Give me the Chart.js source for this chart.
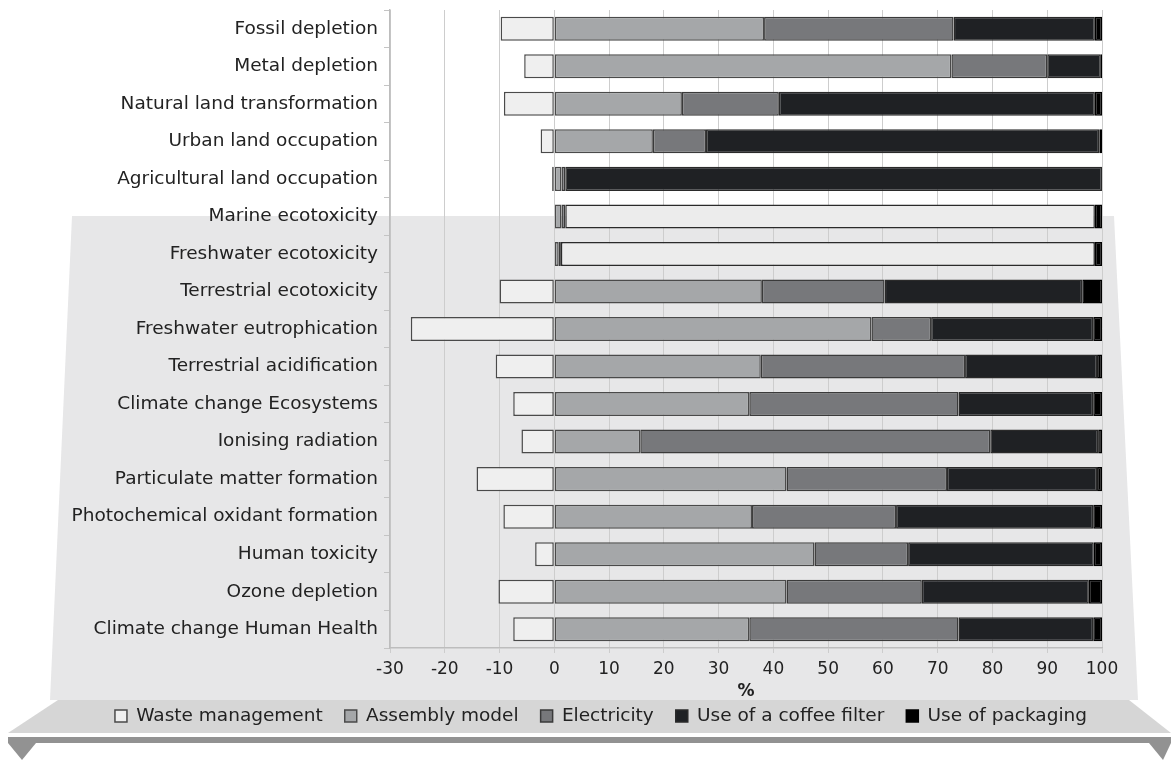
<!DOCTYPE html>
<html>
<head>
<meta charset="utf-8">
<script src="https://cdn.jsdelivr.net/npm/chart.js@4/dist/chart.umd.min.js"></script>
<style>
  html,body{margin:0;padding:0;background:#fff;}
  #wrap{width:1171px;height:760px;position:relative;}
</style>
</head>
<body>
<div id="wrap"><canvas id="myChart" width="1171" height="760"></canvas></div>
<script>
const categories=['Fossil depletion','Metal depletion','Natural land transformation','Urban land occupation',
  'Agricultural land occupation','Marine ecotoxicity','Freshwater ecotoxicity','Terrestrial ecotoxicity',
  'Freshwater eutrophication','Terrestrial acidification','Climate change Ecosystems','Ionising radiation',
  'Particulate matter formation','Photochemical oxidant formation','Human toxicity','Ozone depletion',
  'Climate change Human Health'];

const wasteManagement=[-9.8,-5.5,-9.2,-2.5,-0.4,0,0,-10,-26.2,-10.7,-7.5,-6,-14.2,-9.3,-3.5,-10.2,-7.5];
const assemblyModel=[38.3,72.5,23.3,18,1.3,1.3,0.8,37.9,57.9,37.7,35.6,15.7,42.4,36.1,47.5,42.4,35.6];
const electricity=[34.6,17.5,17.7,9.7,0.7,0.7,0.4,22.4,10.9,37.3,38.2,63.9,29.3,26.3,17.1,24.7,38.2];
const coffeeFilter=[25.8,9.8,57.7,71.8,98,96.7,97.5,36.1,29.6,24.1,24.6,19.7,27.4,36,33.9,30.5,24.6];
const packaging=[1.3,0.2,1.3,0.5,0,1.3,1.3,3.6,1.6,0.9,1.6,0.7,0.9,1.6,1.5,2.4,1.6];
const xTicks=[-30,-20,-10,0,10,20,30,40,50,60,70,80,90,100];

// rows where the coffee filter part is drawn light in the original
const lightRows=['Marine ecotoxicity','Freshwater ecotoxicity'];

const fontFam="'DejaVu Sans', 'Liberation Sans', sans-serif";

const backdrop={
  id:'backdrop',
  afterLayout(chart){
    // legend in the original sits a bit right of the canvas centre
    chart.legend.left+=50;
    chart.legend.right+=50;
  },
  beforeDraw(chart){
    const c=chart.ctx;
    c.save();
    c.fillStyle='#fff';
    c.fillRect(0,0,chart.width,chart.height);
    // grey panel
    c.fillStyle='#e7e7e8';
    c.beginPath();
    c.moveTo(72,216);c.lineTo(1114,216);c.lineTo(1138,700);c.lineTo(50,700);
    c.closePath();c.fill();
    // legend band
    c.fillStyle='#d6d6d6';
    c.beginPath();
    c.moveTo(58,700);c.lineTo(1129,700);c.lineTo(1171,733);c.lineTo(8,733);
    c.closePath();c.fill();
    // dark strip with arrows
    c.fillStyle='#929292';
    c.fillRect(8,737,1163,6);
    c.beginPath();c.moveTo(8,743);c.lineTo(36,743);c.lineTo(22,760);c.closePath();c.fill();
    c.beginPath();c.moveTo(1149,743);c.lineTo(1171,743);c.lineTo(1163,760);c.closePath();c.fill();
    c.restore();
  }
};

const coffeeColor=ctx=>{
  if(ctx.type==='data' && lightRows.includes(categories[ctx.dataIndex])) return '#ececec';
  return '#1f2124';
};

const ctx=document.getElementById('myChart').getContext('2d');
const myChart=new Chart(ctx,{
  type:'bar',
  data:{
    labels:categories,
    datasets:[
      {label:'Waste management',data:wasteManagement,backgroundColor:'#efefef',borderColor:'#4a4a4a'},
      {label:'Assembly model',data:assemblyModel,backgroundColor:'#a5a7a9',borderColor:'#4a4a4a'},
      {label:'Electricity',data:electricity,backgroundColor:'#77787b',borderColor:'#3a3a3a'},
      {label:'Use of a coffee filter',data:coffeeFilter,backgroundColor:coffeeColor,borderColor:'#2a2a2a'},
      {label:'Use of packaging',data:packaging,backgroundColor:'#000',borderColor:'#000'}
    ]
  },
  options:{
    indexAxis:'y',
    responsive:false,
    animation:false,
    devicePixelRatio:1,
    datasets:{bar:{borderWidth:1.5,borderSkipped:false,categoryPercentage:1,barPercentage:0.64}},
    layout:{padding:{top:10,right:69,bottom:24.75,left:0}},
    plugins:{
      tooltip:{enabled:false},
      legend:{
        position:'bottom',
        labels:{
          font:{family:fontFam,size:18.5},color:'#222',
          boxWidth:12,boxHeight:12,padding:22
        }
      }
    },
    scales:{
      x:{
        stacked:true,min:-30,max:100,
        afterBuildTicks:s=>{s.ticks=xTicks.map(v=>({value:v}));},
        afterFit:s=>{s.height=36.75;},
        grid:{color:'#cdcdcd',tickLength:5,lineWidth:1},
        border:{color:'#bdbdbd',width:1.5},
        ticks:{font:{family:fontFam,size:17},color:'#222',padding:6},
        title:{display:true,text:'%',font:{family:fontFam,size:17,weight:'bold'},color:'#222',padding:{top:0,bottom:-17.5}}
      },
      y:{
        stacked:true,
        afterFit:s=>{s.width=390;s.paddingTop=0;s.paddingBottom=0;},
        grid:{drawOnChartArea:false,tickLength:6,color:'#c4c4c4'},
        border:{color:'#bdbdbd',width:1.5},
        ticks:{font:{family:fontFam,size:18.5},color:'#222',padding:6}
      }
    }
  },
  plugins:[backdrop]
});
</script>
</body>
</html>
